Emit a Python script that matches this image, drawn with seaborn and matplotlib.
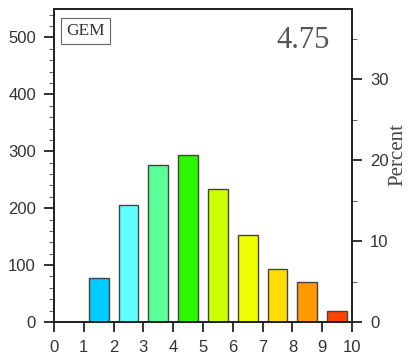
import matplotlib
matplotlib.use("Agg")
import matplotlib.pyplot as plt
import seaborn as sns
import numpy as np
import pandas as pd
from matplotlib.ticker import MultipleLocator

bin_centers = [1.5, 2.5, 3.5, 4.5, 5.5, 6.5, 7.5, 8.5, 9.5]
counts = [77, 206, 276, 294, 234, 152, 93, 70, 20]
bar_colors = ["#00CCFF", "#60FFFF", "#5CFF96", "#2EF500", "#CCFF00",
              "#EEFF00", "#FFDD00", "#FF9900", "#FF4400"]
x_ticks = [0, 1, 2, 3, 4, 5, 6, 7, 8, 9, 10]
left_ticks = [0, 100, 200, 300, 400, 500]
right_ticks = [0, 10, 20, 30]
model_label = "GEM"
mean_label = "4.75"

sns.set_style("ticks")
plt.rcParams['font.family'] = ['Liberation Sans', 'DejaVu Sans']
serif = ["Liberation Serif", "DejaVu Serif"]

df = pd.DataFrame({"x": bin_centers, "count": counts,
                   "c": [str(c) for c in bin_centers]})
pal = dict(zip(df["c"], bar_colors))

fig = plt.figure(figsize=(4.12, 3.6), dpi=100)
ax = fig.add_axes([54/412, 38/360, 298/412, 313/360])
sns.barplot(data=df, x="x", y="count", hue="c", palette=pal, native_scale=True,
            width=0.66, edgecolor="#444444", linewidth=1.0, legend=False,
            saturation=1, ax=ax)
ax.set_xlim(0, 10)
ax.set_ylim(0, 550)
ax.set_xticks(x_ticks)
ax.set_xticklabels([str(t) for t in x_ticks])
ax.set_yticks(left_ticks)
ax.yaxis.set_minor_locator(MultipleLocator(20))
ax.set_xlabel("")
ax.set_ylabel("")
for s in ax.spines.values():
    s.set_visible(True)
    s.set_linewidth(1.3)
    s.set_color("#222222")
ax.tick_params(axis="y", which="major", direction="out", length=7, width=1.3,
               labelsize=12, colors="#222222", labelcolor="#333333", pad=6)
ax.tick_params(axis="x", which="major", direction="out", length=7, width=1.3,
               labelsize=12, colors="#222222", labelcolor="#333333", pad=6)
ax.tick_params(axis="y", which="minor", direction="out", length=3.5, width=0.8,
               colors="#666666")

total = sum(counts)
ax2 = ax.twinx()
ax2.set_ylim(0, 550 / total * 100)
ax2.set_yticks(right_ticks)
ax2.yaxis.set_minor_locator(MultipleLocator(5))
ax2.tick_params(axis="y", which="major", direction="out", length=7, width=1.3,
                labelsize=12, colors="#222222", labelcolor="#333333", pad=6)
ax2.tick_params(axis="y", which="minor", direction="out", length=3.5, width=0.8,
                colors="#666666")
for s in ax2.spines.values():
    s.set_linewidth(1.3)
    s.set_color("#222222")
ax2.set_ylabel("Percent", family=serif, fontsize=15, color="#444444")
ax2.yaxis.set_label_coords(1.122, 0.534)

ax.text(0.04, 0.955, model_label, transform=ax.transAxes, ha="left", va="top",
        family=serif, fontsize=12.5, color="#333333",
        bbox=dict(boxstyle="square,pad=0.3", facecolor="white",
                  edgecolor="#666666", linewidth=0.8))
ax.text(0.925, 0.945, mean_label, transform=ax.transAxes, ha="right", va="top",
        family=serif, fontsize=22, color="#555555")

fig.savefig("out.png", dpi=100)
